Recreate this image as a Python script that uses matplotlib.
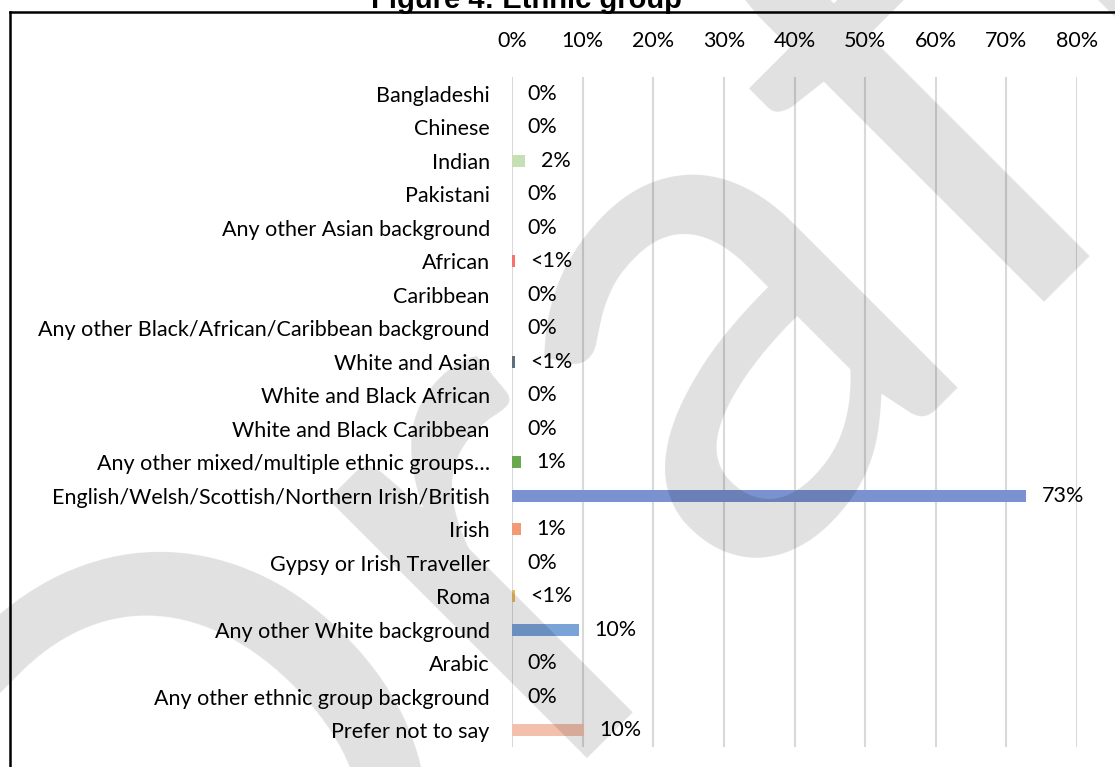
import matplotlib.pyplot as plt
import numpy as np
from matplotlib.lines import Line2D

# ================================
# DATA
# ================================
categories = [
    "Bangladeshi",
    "Chinese",
    "Indian",
    "Pakistani",
    "Any other Asian background",
    "African",
    "Caribbean",
    "Any other Black/African/Caribbean background",
    "White and Asian",
    "White and Black African",
    "White and Black Caribbean",
    "Any other mixed/multiple ethnic groups\u2026",
    "English/Welsh/Scottish/Northern Irish/British",
    "Irish",
    "Gypsy or Irish Traveller",
    "Roma",
    "Any other White background",
    "Arabic",
    "Any other ethnic group background",
    "Prefer not to say",
]
values = [0, 0, 1.9, 0, 0, 0.47, 0, 0, 0.45, 0, 0, 1.23, 72.8, 1.23, 0, 0.47, 9.45, 0, 0, 10.15]
value_labels = ["0%", "0%", "2%", "0%", "0%", "<1%", "0%", "0%", "<1%", "0%",
                "0%", "1%", "73%", "1%", "0%", "<1%", "10%", "0%", "0%", "10%"]
bar_colors = ["#4472c4", "#4472c4", "#c5e0b4", "#4472c4", "#4472c4", "#f4736b",
              "#4472c4", "#4472c4", "#5b6f7c", "#4472c4", "#4472c4", "#6aa84f",
              "#7a92d0", "#f39a74", "#4472c4", "#e9b95f", "#7aa3d8", "#4472c4",
              "#4472c4", "#f4c0ae"]
ticks = [0, 10, 20, 30, 40, 50, 60, 70, 80]

W, H = 1115, 767
FS = 15.5
plt.rcParams["font.family"] = ["Lato", "DejaVu Sans"]

fig = plt.figure(figsize=(W / 100, H / 100), dpi=100)
ax = fig.add_axes([512 / W, 1 - 747 / H, (1077 - 512) / W, (747 - 77) / H])

y = np.arange(len(categories))
ax.barh(y, values, height=0.36, color=bar_colors, zorder=3)

for yi, v, lab in zip(y, values, value_labels):
    ax.annotate(lab, (v, yi), xytext=(11, 0), textcoords="offset points",
                ha="left", va="center", fontsize=FS, color="#000000")

ax.set_ylim(len(categories) - 0.5, -0.5)
ax.set_xlim(0, 80)
ax.set_yticks(y)
ax.set_yticklabels(categories, fontsize=FS)
ax.xaxis.tick_top()
ax.set_xticks(ticks)
ax.set_xticklabels([f"{t}%" for t in ticks], fontsize=FS)
ax.tick_params(axis="x", length=0, pad=19)
ax.tick_params(axis="y", length=0, pad=16)
ax.grid(axis="x", color="#d9d9d9", linewidth=1.5, zorder=0)
for s in ax.spines.values():
    s.set_visible(False)

# frame + title
fig.add_artist(Line2D([10 / W, 10 / W], [0, 1 - 12 / H], transform=fig.transFigure,
                      color="black", linewidth=1.8))
fig.add_artist(Line2D([10 / W, 1], [1 - 12 / H, 1 - 12 / H], transform=fig.transFigure,
                      color="black", linewidth=1.8))
fig.text(526 / W, 1 - 8 / H, "Figure 4: Ethnic group", ha="center", va="baseline",
         fontsize=21, fontweight="bold", family="Liberation Sans")

# watermark
fig.text(740 / W, 1 - 540 / H, "Draft", rotation=45, rotation_mode="anchor",
         fontsize=520, color="black", alpha=0.12,
         ha="center", va="baseline", zorder=10, family="Lato")

fig.savefig("out.png", dpi=100)
